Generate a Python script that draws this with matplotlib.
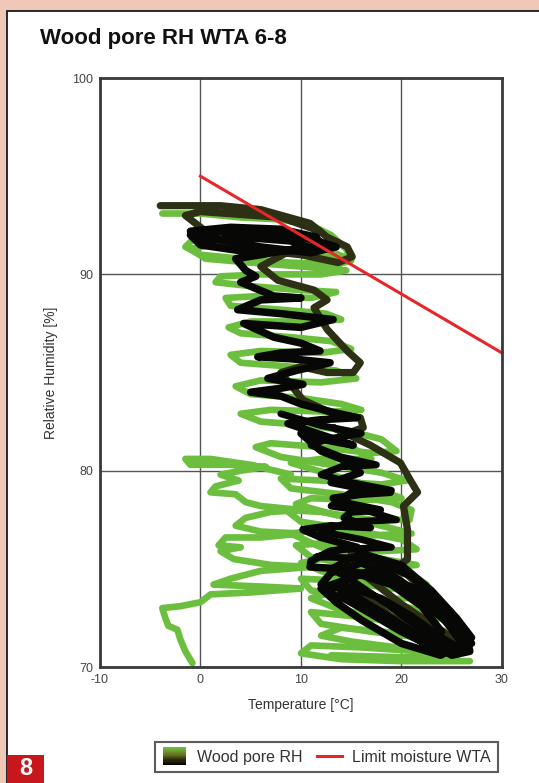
import numpy as np
import matplotlib.pyplot as plt
from matplotlib.patches import Rectangle
from matplotlib.legend_handler import HandlerBase
from matplotlib.lines import Line2D
from matplotlib.colors import LinearSegmentedColormap

plt.rcParams['font.family'] = ['Liberation Sans', 'DejaVu Sans']
plt.rcParams['axes.unicode_minus'] = False

# measured wood pore climate, early period (green): temperature [°C], RH [%]
green_temp = [-3.8, 0, 4, 8, 11, 13, 14.5, 15, 13.5, 9, 4, 0, -1.5, -0.5, 3, 8, 12, 14.2, 12,
              6, 1, -1, 0.5, 5, 10, 14.5, 12, 6, 2, 1.5, 5, 10, 13.5, 11, 6, 2.5, 3, 8, 12.5,
              14, 11, 5, 2.8, 4, 9, 13, 15, 12, 6, 3, 4, 9, 13.5, 15.5, 12, 6, 3.5, 5, 10, 14,
              16, 13, 7, 4, 6, 11, 15, 18, 19.5, 17, 12, 7, 5.5, 8, 13, 18, 20.5, 18, 12, 8, 9,
              14, 19, 21, 20.8, 17, 12, 8.5, 10, 15, 20, 21.5, 18, 12, 9.5, 11, 16, 21, 22.5,
              19, 14, 10, 11, 16, 21, 24, 21, 15, 11, 12, 17, 22, 25.5, 22, 16, 11, 10, 14, 20,
              26.8]
green_rh = [93.1, 93.1, 92.9, 92.8, 92.5, 92.0, 91.3, 90.7, 90.5, 90.6, 90.8, 91.0, 91.4, 91.9,
            92.0, 91.8, 91.4, 90.9, 90.9, 91.2, 91.5, 91.3, 90.8, 90.6, 90.4, 90.2, 90.0, 90.0,
            89.9, 89.6, 89.4, 89.2, 89.1, 88.8, 88.9, 88.8, 88.4, 88.2, 88.0, 87.7, 87.6, 87.6,
            87.3, 87.0, 86.8, 86.6, 86.2, 86.0, 86.1, 85.9, 85.5, 85.3, 85.1, 84.7, 84.5, 84.6,
            84.3, 83.9, 83.7, 83.4, 83.1, 83.0, 83.1, 82.9, 82.5, 82.3, 82.0, 81.6, 81.0, 80.9,
            81.2, 81.4, 81.2, 80.7, 80.3, 79.9, 79.5, 79.3, 79.5, 79.6, 79.1, 78.8, 78.4, 78.0,
            77.5, 77.5, 77.9, 78.0, 77.4, 77.0, 76.5, 76.0, 75.9, 76.3, 76.2, 75.6, 75.2, 74.7,
            74.2, 74.0, 74.4, 74.5, 73.9, 73.5, 73.0, 72.5, 72.2, 72.6, 72.8, 72.2, 71.8, 71.5,
            71.0, 70.8, 71.0, 71.1, 70.7, 70.4, 70.3, 70.3]

# second warm season, lower part of the band (green)
green2_temp = [10.5, 14, 17, 12, 9, 13, 17, 20, 16, 11, 9.5, 13, 18, 21, 17, 12, 9, 12, 17,
               21.5, 17, 12, 10, 13, 18, 22.5, 18, 13, 11, 14, 20, 24.5, 20, 14, 12, 15, 21,
               25.5, 20, 13]
green2_rh = [82.0, 81.5, 80.6, 80.6, 80.4, 79.8, 79.2, 78.6, 78.5, 78.6, 78.3, 77.8, 77.2, 76.8,
             76.7, 77.0, 76.8, 76.1, 75.6, 75.2, 75.0, 75.5, 75.3, 74.7, 74.2, 73.6, 73.4, 73.8,
             73.5, 72.9, 72.4, 71.8, 71.7, 72.0, 71.6, 71.3, 70.9, 70.5, 70.5, 70.6]

# cold spell excursion towards frost (green)
cold_temp = [9, 5, 1, -1.5, -1, 3, 6.5, 4, 2, 3.8, 1.5, 1, 3.5, 4.5, 6, 10, 7, 4.5, 3.5, 6, 10,
             6, 2.5, 1.8, 4, 2, 3.3, 7, 11, 6, 3, 1.3, 6, 10, 5, 1, 0, -2, -3.8, -3.5, -3.2,
             -2.3, -2, -1.5, -0.8]
cold_rh = [79.8, 80.3, 80.6, 80.6, 80.3, 80.3, 80.2, 80.0, 79.8, 79.5, 79.2, 78.9, 78.8, 78.4,
           78.2, 78.0, 77.9, 77.6, 77.2, 76.9, 76.8, 76.6, 76.6, 76.2, 76.1, 75.9, 75.5, 75.2,
           75.1, 74.9, 74.5, 74.2, 74.1, 74.0, 73.8, 73.7, 73.3, 73.1, 73.0, 72.5, 72.1, 71.9,
           71.4, 70.8, 70.2]

# middle period (dark olive)
olive_temp = [-4.0, 2, 6.0, 10.9, 12.6, 14.6, 15.1, 13.7, 10.0, 2.7, 0.5, -1.5, 0.0, 8.0, 11.9,
              10.0, 6.0, 7.7, 11.3, 12.6, 11.3, 12.6, 14.6, 15.9, 15.2, 12.6, 10.0, 8.0,
              10.2, 13.2, 15.9, 16.2, 14.6, 13.2, 16.9, 19.9, 20.9, 21.6, 20.2, 20.6, 20.6,
              19.6, 15.9, 19.9, 23.9, 25.9, 23.9, 18.9, 14.9, 14.4, 17.9, 15, 20, 24, 26.5,
              25, 20, 16]
olive_rh = [93.5, 93.5, 93.3, 92.6, 91.9, 91.4, 90.9, 90.6, 91.0, 91.4, 92.2, 93.0, 93.2, 92.9,
            92.2, 91.5, 90.4, 89.7, 89.2, 88.7, 88.3, 87.2, 86.1, 85.5, 85.0, 85.0, 85.3, 85.0,
            83.6, 82.9, 82.7, 82.2, 81.9, 82.2, 81.3, 80.4, 79.5, 78.9, 78.2, 77.0, 75.5,
            75.1, 75.5, 74.4, 72.6, 71.4, 71.1, 72.6, 74.2, 74.9, 74.7, 75.8, 75.0, 73.0,
            71.8, 71.5, 73.2, 74.8]

# late period (black)
black_temp = [-1, 3, 8, 11.5, 12, 9, 4, 0, -1, 2, 7, 11, 13.5, 11, 6, 1.5, 0, 4, 9, 10.5, 6,
              3.5, 4.5, 5.5, 4, 7.3, 10, 6, 3.7, 8, 13.2, 10, 4.3, 7.3, 10, 11.9, 8, 5.7, 9,
              12.9, 9.5, 6.7, 10.2, 8, 5, 8, 10, 13, 15.6, 12, 8.7, 11, 15.2, 12, 10, 12, 14,
              15.9, 13, 16, 18.9, 16, 13.2, 15, 17.9, 15, 14.3, 16.9, 13, 10.2, 12, 15.6, 12.9,
              11, 10.9, 14, 18, 22.2, 24.9, 26.5, 26.8, 25, 22, 18, 14, 12, 13, 16, 19, 23,
              25.5, 26.5, 24, 20, 16, 13.9, 14.5, 17, 21, 24.5, 26, 23.9, 20, 16, 13.5, 12,
              15.9, 19, 22, 24, 22, 18, 15]
black_rh = [92.2, 92.4, 92.3, 91.9, 91.5, 91.2, 91.2, 91.5, 92.0, 92.2, 92.1, 91.8, 91.4, 91.1,
            91.4, 91.8, 91.7, 91.9, 91.7, 91.4, 91.0, 90.8, 90.2, 89.9, 89.6, 88.9, 88.8, 88.7,
            88.2, 88.0, 87.7, 87.3, 87.5, 86.8, 86.5, 86.1, 86.0, 85.8, 85.7, 85.5, 85.1, 84.7,
            84.4, 84.2, 84.0, 83.8, 83.4, 83.0, 82.7, 82.6, 82.4, 82.0, 81.3, 81.6, 81.9, 81.0,
            80.6, 79.9, 79.4, 79.1, 78.9, 78.8, 78.6, 78.3, 78.0, 77.9, 77.6, 77.1, 77.2, 77.0,
            76.6, 76.1, 75.9, 75.4, 75.1, 75.0, 74.5, 73.9, 72.8, 71.5, 70.8, 70.6, 71.5, 72.8,
            74.0, 74.2, 74.8, 75.3, 74.7, 73.3, 72.0, 71.0, 70.8, 71.8, 73.0, 73.6, 74.5, 74.9,
            73.8, 72.3, 71.2, 70.6, 71.2, 72.4, 73.3, 74.0, 74.7, 74.2, 73.1, 71.8, 71.3, 72.6,
            73.8]

# late period, second year (black)
black2_temp = [8, 12, 16, 12.5, 11, 14, 17.5, 14, 12, 15, 19, 15, 13, 17, 19.5, 15, 12, 16, 19,
               14, 11.5, 13, 17, 21, 24, 26, 27, 25.5, 22, 18, 14.5, 13, 16, 20, 23, 25.5, 27,
               26, 22.5, 19, 15, 12.5, 14, 18, 21, 24, 26]
black2_rh = [82.9, 82.3, 81.9, 81.6, 81.3, 80.7, 80.3, 80.2, 79.8, 79.4, 79.0, 78.9, 78.2, 77.9,
             77.5, 77.4, 76.9, 76.5, 76.1, 76.0, 75.6, 75.6, 75.5, 74.6, 73.2, 72.0, 71.2, 70.9,
             71.9, 73.4, 74.6, 75.0, 75.8, 75.2, 73.9, 72.5, 71.5, 70.8, 71.2, 72.2, 73.4, 73.8,
             74.2, 73.5, 72.6, 71.5, 70.9]

# WTA limit for moisture in wood pores
limit_temp = [0, 30]
limit_rh = [95, 86]

c_green = '#6cbf3e'
c_olive = '#2e3015'
c_black = '#070705'

fig = plt.figure(figsize=(5.39, 7.83), dpi=100)
fig.patch.set_facecolor('#f0c8b7')
fig.patches.append(Rectangle((0.013, -0.01), 1.0, 0.996, transform=fig.transFigure,
                             facecolor='white', edgecolor='#1a1a1a', lw=1.3, zorder=-5))
fig.patches.append(Rectangle((0.013, 0.0), 0.0686, 0.0358, transform=fig.transFigure,
                             facecolor='#c8161d', edgecolor='none', zorder=-4))
fig.text(0.0473, 0.0185, '8', color='white', fontsize=17, fontweight='bold',
         ha='center', va='center')

fig.text(0.074, 0.951, 'Wood pore RH WTA 6-8', fontsize=16, fontweight='bold',
         ha='left', va='center', color='#111111')

ax = fig.add_axes([0.1855, 0.1481, 0.7458, 0.7522])
ax.set_zorder(2)
ax.set_xlim(-10, 30)
ax.set_ylim(70, 100)
ax.set_xticks([-10, 0, 10, 20, 30])
ax.set_yticks([70, 80, 90, 100])
ax.grid(True, color='#555555', lw=1.0)
ax.set_axisbelow(True)
ax.tick_params(length=0, labelsize=9, colors='#444444', pad=5)
for s in ax.spines.values():
    s.set_color('#3a3a3a')
    s.set_linewidth(2.0)

line_kw = dict(solid_joinstyle='round', solid_capstyle='round')
ax.plot(green_temp, green_rh, color=c_green, lw=4.8, **line_kw)
ax.plot(green2_temp, green2_rh, color=c_green, lw=4.8, **line_kw)
ax.plot(cold_temp, cold_rh, color=c_green, lw=4.8, **line_kw)
ax.plot(olive_temp, olive_rh, color=c_olive, lw=5.2, **line_kw)
ax.plot(black_temp, black_rh, color=c_black, lw=5.4, **line_kw)
ax.plot(black2_temp, black2_rh, color=c_black, lw=5.0, **line_kw)
ax.plot(limit_temp, limit_rh, color='#e8262a', lw=2.2, clip_on=False)

ax.set_xlabel('Temperature [°C]', fontsize=10, color='#333333', labelpad=9)
ax.set_ylabel('Relative Humidity [%]', fontsize=10, color='#333333', labelpad=10)


class GradientHandler(HandlerBase):
    # stack of thin bands running from green to black
    def create_artists(self, legend, orig_handle, xdescent, ydescent, width, height,
                       fontsize, trans):
        cmap = LinearSegmentedColormap.from_list(
            'pore', [c_green, '#6e8a2a', '#3a3a12', '#000000'])
        n = 16
        w = width * 0.9
        h = height * 1.65
        x0 = -xdescent + (width - w) / 2
        y0 = -ydescent - (h - height) / 2
        arts = []
        for i in range(n):
            r = Rectangle((x0, y0 + h * (n - 1 - i) / n), w, h / n + 0.2,
                          facecolor=cmap(i / (n - 1)), edgecolor='none', transform=trans)
            arts.append(r)
        return arts


grad_handle = Rectangle((0, 0), 1, 1)
limit_handle = Line2D([0], [0], color='#e8262a', lw=2.2)
leg = fig.legend([grad_handle, limit_handle], ['Wood pore RH', 'Limit moisture WTA'],
                 handler_map={Rectangle: GradientHandler()},
                 loc='center', bbox_to_anchor=(0.605, 0.033), ncol=2, fontsize=11.5,
                 frameon=True, fancybox=False, edgecolor='#333333', handlelength=1.6,
                 handletextpad=0.6, columnspacing=0.9, borderpad=0.45, borderaxespad=0)
leg.get_frame().set_linewidth(1.5)
for t in leg.get_texts():
    t.set_color('#333333')

fig.savefig('out.png', dpi=100)
